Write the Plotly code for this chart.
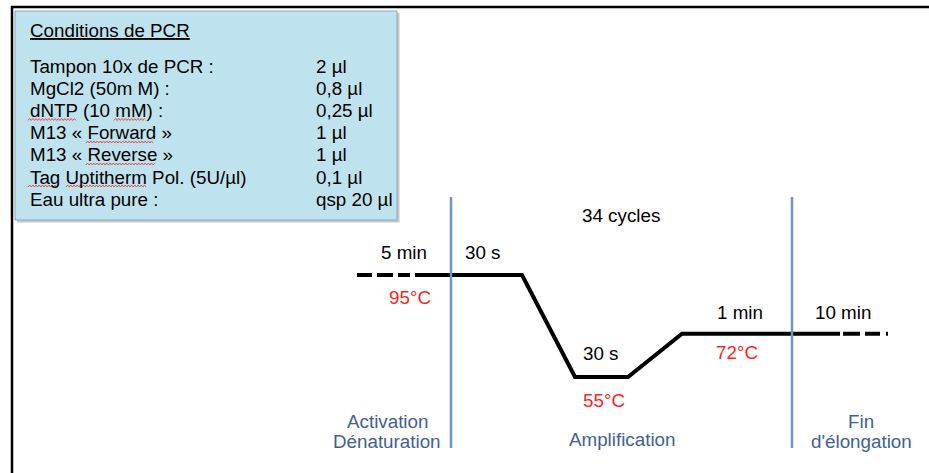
import plotly.graph_objects as go

# ---------------- data ----------------
box_title = "Conditions de PCR"
reagents = ["Tampon 10x de PCR :", "MgCl2 (50m M) :", "dNTP (10 mM) :",
            "M13 « Forward »", "M13 « Reverse »", "Tag Uptitherm Pol. (5U/µl)",
            "Eau ultra pure :"]
volumes = ["2 µl", "0,8 µl", "0,25 µl", "1 µl", "1 µl", "0,1 µl", "qsp 20 µl"]

# thermal profile (schematic position, temperature °C)
profile_pos = [415, 522, 575, 628, 682, 840]
profile_temp = [95, 95, 55, 55, 72, 72]
start_pos = [357, 415]
start_temp = [95, 95]
end_pos = [840, 888]
end_temp = [72, 72]

temps = [95, 55, 72]
durations = ["5 min", "30 s", "30 s", "1 min", "10 min"]
cycles = "34 cycles"
phases = [["Activation", "Dénaturation"], ["Amplification"], ["Fin", "d'élongation"]]
phase_bounds = [451, 792]

# spell-check squiggles (x start, x end, y) in pixels
squiggles = [(28, 76, 119.5), (114, 145, 119.5), (86, 154, 142), (86, 155, 164),
             (28, 60, 186), (66, 147, 186)]

# ---------------- layout helpers ----------------
W, H = 929, 473
FONT = "Liberation Sans, Arial, Helvetica, sans-serif"
FS = 18.8
Y95 = 275.0
PX_PER_DEG = 2.55


def px(x):
    return x / W


def py(y):
    return 1 - y / H


t_lo = 95 - (H - Y95) / PX_PER_DEG
t_hi = 95 + Y95 / PX_PER_DEG

fig = go.Figure()

line_style = dict(color="black", width=4)
fig.add_trace(go.Scatter(x=start_pos, y=start_temp, mode="lines",
                         line=dict(color="black", width=4, dash="15px,5px,16px,5px,12px,20px"),
                         hoverinfo="skip"))
fig.add_trace(go.Scatter(x=profile_pos, y=profile_temp, mode="lines", line=line_style,
                         hoverinfo="skip"))
fig.add_trace(go.Scatter(x=end_pos, y=end_temp, mode="lines",
                         line=dict(color="black", width=4, dash="0px,3px,17px,5px,15px,6px,2px,50px"),
                         hoverinfo="skip"))

shapes = []
# frame
shapes.append(dict(type="line", xref="paper", yref="paper", x0=px(11), x1=1.0,
                   y0=py(7), y1=py(7), line=dict(color="black", width=2.5)))
shapes.append(dict(type="line", xref="paper", yref="paper", x0=px(12), x1=px(12),
                   y0=py(6), y1=0, line=dict(color="black", width=2.5)))
# box shadow + box
shapes.append(dict(type="rect", xref="paper", yref="paper", x0=px(17), x1=px(399.5),
                   y0=py(13), y1=py(222.5), fillcolor="rgba(0,0,0,0.22)", line=dict(width=0),
                   layer="below"))
shapes.append(dict(type="rect", xref="paper", yref="paper", x0=px(15), x1=px(397),
                   y0=py(11), y1=py(220), fillcolor="#bfe3ee", line=dict(color="#86a8be", width=1),
                   layer="below"))
# phase boundaries
for b in phase_bounds:
    shapes.append(dict(type="line", xref="x", yref="paper", x0=b, x1=b,
                       y0=py(197), y1=py(448), line=dict(color="#6f96c2", width=2.5)))

# squiggly underlines
for x0, x1, y in squiggles:
    pts = []
    x = x0
    k = 0
    while x <= x1:
        yy = y + (1.0 if k % 2 == 0 else -1.0)
        pts.append(f"{px(x):.5f},{py(yy):.5f}")
        x += 1.6
        k += 1
    path = "M " + " L ".join(pts)
    shapes.append(dict(type="path", xref="paper", yref="paper", path=path,
                       line=dict(color="#e0504c", width=1)))

ann = []


def text(x, y, s, color="black", anchor="center", size=FS):
    ann.append(dict(xref="paper", yref="paper", x=px(x), y=py(y), text=s, showarrow=False,
                    xanchor=anchor, yanchor="middle",
                    font=dict(family=FONT, size=size, color=color)))


text(28, 31, "<u>" + box_title + "</u>", anchor="left")
row_y = [66.5, 88.5, 110.5, 132.5, 155, 177, 199]
for r, v, y in zip(reagents, volumes, row_y):
    text(28, y, r, anchor="left")
    text(314, y, v, anchor="left")

text(621, 215.5, cycles)
dur_xy = [(404, 252.5), (483, 252.5), (600.5, 353), (740, 312.5), (842.5, 312.5)]
for d, (x, y) in zip(durations, dur_xy):
    text(x, y, d)

RED = "#ff1f1f"
temp_xy = [(410, 297), (604, 400), (736.5, 352)]
for t, (x, y) in zip(temps, temp_xy):
    text(x, y, f"{t}°C", color=RED)

BLUE = "#3f6193"
phase_xy = [[(387, 421), (387, 441.5)], [(622, 439.5)], [(861, 421), (861, 441.5)]]
for labels, pos in zip(phases, phase_xy):
    for s, (x, y) in zip(labels, pos):
        text(x, y, s, color=BLUE)

fig.update_layout(
    width=W, height=H,
    margin=dict(l=0, r=0, t=0, b=0),
    paper_bgcolor="white", plot_bgcolor="white",
    showlegend=False,
    xaxis=dict(range=[0, W], visible=False, fixedrange=True),
    yaxis=dict(range=[t_lo, t_hi], visible=False, fixedrange=True),
    shapes=shapes,
    annotations=ann,
)

fig.write_html("out.html", config={"displayModeBar": False, "staticPlot": True},
               post_script="document.body.style.margin='0px';document.body.style.overflow='hidden';")
